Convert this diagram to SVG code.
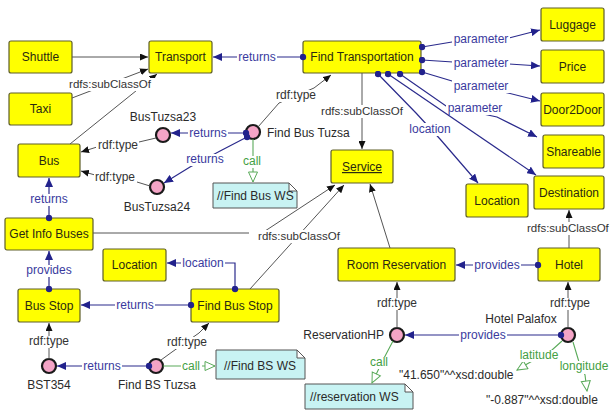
<svg xmlns="http://www.w3.org/2000/svg" width="612" height="413" viewBox="0 0 612 413">
  <style>
    text { font-family: "Liberation Sans", Arial, sans-serif; font-size: 12px; }
    .cls rect { fill: #ffff00; stroke: #5e5e28; stroke-width: 1.2; }
    .cls text { fill: #2a2a10; text-anchor: middle; }
    .ind circle { fill: #f4a4c6; stroke: #1a1a1a; stroke-width: 2.2; }
    .ind text { fill: #2a2a2a; }
    .note path { fill: #c8f3f3; stroke: #555; stroke-width: 1; }
    .note text { fill: #2a2a2a; }
    .g { fill: none; stroke: #555; stroke-width: 1; marker-end: url(#ahBlack); }
    .b { fill: none; stroke: #2a2a8c; stroke-width: 1.2; marker-start: url(#dot); marker-end: url(#ahBlue); }
    .c { fill: none; stroke: #5aaa5a; stroke-width: 1.1; marker-end: url(#tri); }
    .bg { fill: #fff; }
    .lg { fill: #333; text-anchor: middle; }
    .lg.start { text-anchor: start; }
    .lb { fill: #3a3a9e; text-anchor: middle; }
    .lc { fill: #44a044; text-anchor: middle; }
    .sc { font-size: 11.5px; }
    .lit { fill: #2a2a2a; }
  </style>
  <defs>
    <marker id="ahBlack" viewBox="0 0 8 7" refX="8" refY="3.5" markerWidth="8" markerHeight="7" orient="auto" markerUnits="userSpaceOnUse">
      <path d="M0,0 L8,3.5 L0,7 z" fill="#111"/>
    </marker>
    <marker id="ahBlue" viewBox="0 0 9 8" refX="9" refY="4" markerWidth="9" markerHeight="8" orient="auto" markerUnits="userSpaceOnUse">
      <path d="M0,0 L9,4 L0,8 z" fill="#22228c"/>
    </marker>
    <marker id="dot" viewBox="0 0 7 7" refX="3.5" refY="3.5" markerWidth="7" markerHeight="7" markerUnits="userSpaceOnUse">
      <circle cx="3.5" cy="3.5" r="3.2" fill="#22228c"/>
    </marker>
    <marker id="tri" viewBox="0 0 12 11" refX="11" refY="5.5" markerWidth="12" markerHeight="11" orient="auto" markerUnits="userSpaceOnUse">
      <path d="M1,1 L11,5.5 L1,10 z" fill="#fff" stroke="#5aaa5a" stroke-width="1"/>
    </marker>
  </defs>
  <rect width="612" height="413" fill="#fff"/>

  <!-- classes -->
  <g id="shuttle" class="cls"><rect x="9" y="41" width="63" height="32" rx="2"/><text x="40.5" y="61">Shuttle</text></g>
  <g id="taxi" class="cls"><rect x="9" y="93" width="63" height="32" rx="2"/><text x="40.5" y="113">Taxi</text></g>
  <g id="transport" class="cls"><rect x="149" y="41" width="63" height="32" rx="2"/><text x="180.5" y="61">Transport</text></g>
  <g id="find-transportation" class="cls"><rect x="303" y="41" width="118" height="32" rx="2"/><text x="362" y="61">Find Transportation</text></g>
  <g id="luggage" class="cls"><rect x="541" y="8" width="63" height="33" rx="2"/><text x="572.5" y="29">Luggage</text></g>
  <g id="price" class="cls"><rect x="541" y="50" width="63" height="33" rx="2"/><text x="572.5" y="71">Price</text></g>
  <g id="door2door" class="cls"><rect x="541" y="93" width="63" height="33" rx="2"/><text x="572.5" y="114">Door2Door</text></g>
  <g id="shareable" class="cls"><rect x="543" y="135" width="61" height="33" rx="2"/><text x="573.5" y="156">Shareable</text></g>
  <g id="destination" class="cls"><rect x="534" y="176" width="70" height="33" rx="2"/><text x="569" y="197">Destination</text></g>
  <g id="location-a" class="cls"><rect x="466" y="184" width="62" height="33" rx="2"/><text x="497" y="205">Location</text></g>
  <g id="bus" class="cls"><rect x="18" y="144" width="62" height="33" rx="2"/><text x="49" y="165">Bus</text></g>
  <g id="service" class="cls"><rect x="331" y="150" width="62" height="33" rx="2"/><text x="362" y="171" text-decoration="underline">Service</text></g>
  <g id="get-info-buses" class="cls"><rect x="5" y="218" width="88" height="32" rx="2"/><text x="49" y="238">Get Info Buses</text></g>
  <g id="location-b" class="cls"><rect x="103" y="249" width="63" height="32" rx="2"/><text x="134.5" y="269">Location</text></g>
  <g id="room-reservation" class="cls"><rect x="338" y="248" width="117" height="33" rx="2"/><text x="396.5" y="269">Room Reservation</text></g>
  <g id="hotel" class="cls"><rect x="538" y="248" width="62" height="33" rx="2"/><text x="569" y="269">Hotel</text></g>
  <g id="bus-stop" class="cls"><rect x="18" y="289" width="62" height="33" rx="2"/><text x="49" y="310">Bus Stop</text></g>
  <g id="find-bus-stop" class="cls"><rect x="191" y="289" width="88" height="33" rx="2"/><text x="235" y="310">Find Bus Stop</text></g>

  <!-- individuals -->
  <g id="bustuzsa23" class="ind"><circle cx="163" cy="135" r="7"/><text x="163" y="121" text-anchor="middle">BusTuzsa23</text></g>
  <g id="find-bus-tuzsa" class="ind"><circle cx="253" cy="132" r="7"/><text x="267" y="137">Find Bus Tuzsa</text></g>
  <g id="bustuzsa24" class="ind"><circle cx="157" cy="187" r="7"/><text x="157" y="211" text-anchor="middle">BusTuzsa24</text></g>
  <g id="bst354" class="ind"><circle cx="49" cy="366" r="7"/><text x="49" y="389" text-anchor="middle">BST354</text></g>
  <g id="find-bs-tuzsa" class="ind"><circle cx="156" cy="366" r="7"/><text x="157" y="389" text-anchor="middle">Find BS Tuzsa</text></g>
  <g id="reservation-hp" class="ind"><circle cx="397" cy="335" r="7"/><text x="384" y="339" text-anchor="end">ReservationHP</text></g>
  <g id="hotel-palafox" class="ind"><circle cx="568" cy="335" r="7"/><text x="521" y="323" text-anchor="middle">Hotel Palafox</text></g>

  <!-- notes and literals -->
  <g id="find-bus-ws" class="note"><path d="M213,183 H289 L297,191 V208 H213 Z M289,183 V191 H297"/><text x="217" y="200">//Find Bus WS</text></g>
  <g id="find-bs-ws" class="note"><path d="M216,350 H297 L305,358 V379 H216 Z M297,350 V358 H305"/><text x="224" y="370">//Find BS WS</text></g>
  <g id="reservation-ws" class="note"><path d="M305,384 H405 L413,392 V409 H305 Z M405,384 V392 H413"/><text x="310" y="401">//reservation WS</text></g>
  <g id="lit-lat"><text class="lit" x="399" y="379">"41.650"^^xsd:double</text></g>
  <g id="lit-lon"><text class="lit" x="486" y="404">"-0.887"^^xsd:double</text></g>

  <!-- connectors -->
  <g id="connectors">
    <!-- rdfs:subClassOf / rdf:type -->
    <path class="g" d="M72,57 H148"/>
    <path class="g" d="M72,98 L148,69"/>
    <path class="g" d="M70,144 L157,74"/>
    <rect class="bg" x="65" y="78" width="90" height="13"/>
    <text class="lg sc" x="110" y="88">rdfs:subClassOf</text>

    <path class="g" d="M362,73 V149"/>
    <rect class="bg" x="317" y="105" width="91" height="13"/>
    <text class="lg sc" x="362" y="115">rdfs:subClassOf</text>

    <path class="g" d="M258,127 L279,103 L314,88 L331,75"/>
    <rect class="bg" x="274" y="90" width="43" height="12"/>
    <text class="lg" x="296" y="99">rdf:type</text>

    <path class="g" d="M156,138 L139,142 L97,147 L81,152"/>
    <rect class="bg" x="96" y="140" width="43" height="12"/>
    <text class="lg" x="118" y="149">rdf:type</text>

    <path class="g" d="M150,186 L137,182 L95,175 L81,171"/>
    <rect class="bg" x="94" y="172" width="43" height="12"/>
    <text class="lg" x="115" y="181">rdf:type</text>

    <path class="g" d="M49,359 V323"/>
    <rect class="bg" x="27" y="336" width="43" height="12"/>
    <text class="lg" x="49" y="345">rdf:type</text>

    <path class="g" d="M161,360 L172,352 L199,333 L209,323"/>
    <rect class="bg" x="165" y="337" width="43" height="12"/>
    <text class="lg" x="187" y="346">rdf:type</text>

    <path class="g" d="M397,328 V282"/>
    <rect class="bg" x="375" y="298" width="43" height="12"/>
    <text class="lg" x="397" y="307">rdf:type</text>

    <path class="g" d="M568,328 V282"/>
    <rect class="bg" x="548" y="298" width="43" height="12"/>
    <text class="lg" x="570" y="307">rdf:type</text>

    <path class="g" d="M569,248 V210"/>
    <rect class="bg" x="525" y="222" width="87" height="13"/>
    <text class="lg sc start" x="527" y="232">rdfs:subClassOf</text>

    <path class="g" d="M390,248 L370,184"/>
    <path class="g" d="M93,233 H262 L335,185"/>
    <path class="g" d="M250,289 L344,185"/>
    <rect class="bg" x="249" y="230" width="98" height="13"/>
    <text class="lg sc" x="299" y="240">rdfs:subClassOf</text>

    <!-- object properties -->
    <path class="b" d="M303,57 H213"/>
    <rect class="bg" x="237" y="52" width="40" height="12"/>
    <text class="lb" x="257" y="61">returns</text>

    <path class="b" d="M422,47 L452,42 L509,38 L540,30"/>
    <rect class="bg" x="452" y="33" width="58" height="13"/>
    <text class="lb" x="481" y="43">parameter</text>

    <path class="b" d="M422,60 L453,62 L509,64 L540,66"/>
    <rect class="bg" x="452" y="57" width="58" height="13"/>
    <text class="lb" x="481" y="67">parameter</text>

    <path class="b" d="M422,72 L452,81 L508,93 L540,101"/>
    <rect class="bg" x="452" y="80" width="58" height="13"/>
    <text class="lb" x="481" y="90">parameter</text>

    <path class="b" d="M400,74 L446,106 L497,117 L537,137"/>
    <rect class="bg" x="446" y="102" width="58" height="13"/>
    <text class="lb" x="475" y="112">parameter</text>

    <path class="b" d="M388,74 L536,175"/>

    <path class="b" d="M378,74 L416,113 L440,139 L478,183"/>
    <rect class="bg" x="408" y="123" width="44" height="13"/>
    <text class="lb" x="430" y="133">location</text>

    <path class="b" d="M246,133 H171"/>
    <rect class="bg" x="188" y="128" width="40" height="12"/>
    <text class="lb" x="208" y="137">returns</text>

    <path class="b" d="M247,137 L222,150 L190,167 L164,183"/>
    <rect class="bg" x="185" y="154" width="40" height="12"/>
    <text class="lb" x="205" y="163">returns</text>

    <path class="b" d="M49,218 V178"/>
    <rect class="bg" x="28" y="194" width="42" height="12"/>
    <text class="lb" x="49" y="203">returns</text>

    <path class="b" d="M49,289 V251"/>
    <rect class="bg" x="25" y="265" width="48" height="12"/>
    <text class="lb" x="49" y="274">provides</text>

    <path class="b" d="M235,289 V263 H167"/>
    <rect class="bg" x="181" y="258" width="44" height="12"/>
    <text class="lb" x="203" y="267">location</text>

    <path class="b" d="M191,305 H81"/>
    <rect class="bg" x="115" y="300" width="40" height="12"/>
    <text class="lb" x="135" y="309">returns</text>

    <path class="b" d="M149,366 H57"/>
    <rect class="bg" x="82" y="361" width="40" height="12"/>
    <text class="lb" x="102" y="370">returns</text>

    <path class="b" d="M538,265 H456"/>
    <rect class="bg" x="473" y="260" width="48" height="12"/>
    <text class="lb" x="497" y="269">provides</text>

    <path class="b" d="M561,335 H405"/>
    <rect class="bg" x="459" y="330" width="48" height="12"/>
    <text class="lb" x="483" y="339">provides</text>

    <!-- annotations -->
    <path class="c" d="M253,139 V182"/>
    <rect class="bg" x="242" y="156" width="21" height="12"/>
    <text class="lc" x="252" y="165">call</text>

    <path class="c" d="M163,366 H215"/>
    <rect class="bg" x="181" y="361" width="21" height="12"/>
    <text class="lc" x="191" y="370">call</text>

    <path class="c" d="M393,341 L383,360 L372,383"/>
    <rect class="bg" x="368" y="357" width="22" height="12"/>
    <text class="lc" x="379" y="366">call</text>

    <path class="c" d="M562,341 L552,350 L527,364 L517,370"/>
    <rect class="bg" x="519" y="350" width="41" height="12"/>
    <text class="lc" x="539" y="359">latitude</text>

    <path class="c" d="M573,342 L579,362 L585,375 L587,391"/>
    <rect class="bg" x="558" y="361" width="54" height="13"/>
    <text class="lc" x="584" y="370">longitude</text>
  </g>
</svg>
